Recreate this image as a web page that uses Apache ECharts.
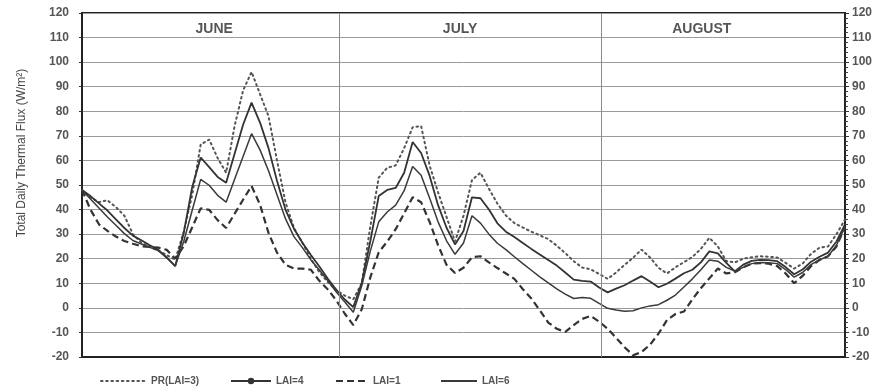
<!DOCTYPE html>
<html>
<head>
<meta charset="utf-8">
<script src="https://cdn.jsdelivr.net/npm/echarts@6/dist/echarts.min.js"></script>
<style>
html,body{margin:0;padding:0;background:#fff;}
#chart{width:885px;height:389px;}
</style>
</head>
<body>
<div id="chart"></div>
<script>
// Day index (0 = June 1)
const days = [0,1,2,3,4,5,6,7,8,9,10,11,12,13,14,15,16,17,18,19,20,21,22,23,24,25,26,27,28,29,30,31,32,33,34,35,36,37,38,39,40,41,42,43,44,45,46,47,48,49,50,51,52,53,54,55,56,57,58,59,60,61,62,63,64,65,66,67,68,69,70,71,72,73,74,75,76,77,78,79,80,81,82,83,84,85,86,87,88,89,90];

const seriesNames = ['PR(LAI=3)', 'LAI=4', 'LAI=1', 'LAI=6'];

// PR(LAI=3) - dotted
const prLai3 = [48,45,43,43.8,41,37.5,30,26.5,24.8,23.3,21.5,19.6,31,46,66.5,68.5,61,55,74,88.5,96,87,78,60,43,32.5,26.5,20,14.5,10.5,7.2,5,3.5,10,33,53,57,58,65,73.5,74,58,47,37,27,37.5,52,55,48.5,42.4,37.6,34.5,32.7,31,29.5,28,25.3,22.3,19,16.4,15.7,13.8,11.8,14.4,17.5,20.4,23.7,20.5,16.3,14,16.5,18.6,20.7,24,28.5,25,19,18.5,20,20.6,21,20.8,20.5,18.3,16,18,22,24.5,25,30,36];
// LAI=4 - upper solid
const lai4 = [48,45.5,42.5,39.6,36,32.5,29.4,27.5,25.5,23.6,20.5,17,30.5,49.2,61.2,57.3,53.3,50.9,62.7,74.5,83.5,75.4,65,51.7,40,32.2,26.5,21.5,16.8,11.8,7.3,3.4,0.3,10.2,27,45.5,48,48.8,55,67.5,63,53.8,41.8,32.6,25.8,31.3,45,44.6,40,34.4,31,28.8,26.4,24,21.7,19.5,17.2,14.4,11.5,11,10.7,8.3,6.3,7.8,9.2,11.1,12.9,10.7,8.4,9.8,11.9,14.1,15.5,18.5,23,22.2,18.3,14.8,17.6,19.1,19.5,19.4,19,16.6,13.7,15.6,18.8,20.8,22.5,27,34];
// LAI=1 - dashed
const lai1 = [48,40,34,31.3,29,27.2,26.1,25.1,24.8,24.5,23.6,20,25.1,32.8,40.5,39.9,35.7,32.5,38.3,44,49.6,42,30.5,22.5,17.5,16,16,15.5,11,7.5,3,-2.4,-7,-0.6,12.3,22.6,27,32,38.5,45,43,35,25.5,17.5,14.2,16.3,20.6,21,18.5,16.2,14,11.8,7.6,3.8,-1,-6,-8.5,-9.8,-7,-4.5,-3.3,-5.6,-8.5,-12.2,-16,-19.3,-18,-15,-10.5,-5,-2.5,-1.5,3.5,8,12,16,14,14.5,16.5,18,18.2,18,17,14,10,13,17,19.5,21,25,33];
// LAI=6 - lower solid
const lai6 = [48,44.3,40.6,37,33.6,30.2,27.4,26,24.6,23.3,20.3,17,27,39.7,52.3,49.9,45.8,43,52.3,61.6,70.9,64.3,55.8,46,36.3,29,24.5,19.5,15.4,11,6.4,2.4,-1.8,9,23,35,39,41.8,47.7,57.5,54,44.7,35,27.3,21.8,26.4,37.5,34.5,30,26.3,23.7,20.8,18,15.3,12.6,10.2,7.7,5.6,3.8,4.2,3.9,1.8,-0.2,-0.9,-1.4,-1.2,0,0.8,1.3,3.1,5.2,8.5,11.8,15.5,19.5,19,16.5,15,16.5,18,18.5,18.4,18,15.6,12.5,14.4,17.6,19.6,21,25.5,33];

// Axis range / ticks
const yMin = -20, yMax = 120, yStep = 10;
const xMin = 0, xMax = 90;

// Month annotations
const months = ['JUNE', 'JULY', 'AUGUST'];
const monthCenters = [15.6, 44.6, 73.1];
const monthBounds = [30.4, 61.3];

const yTitle = 'Total Daily Thermal Flux (W/m\u00B2)';

const FONT = "'Liberation Sans Narrow','DejaVu Sans Condensed','Liberation Sans',sans-serif";
const monthLabelY = 113.5;

const chart = echarts.init(document.getElementById('chart'), null, {renderer: 'canvas'});

function pairs(vals) { return days.map((d, i) => [d, vals[i]]); }

const axisLabelStyle = {fontSize: 12, fontWeight: 'bold', color: '#555', fontFamily: "'Liberation Sans',sans-serif"};
const legendText = {fontSize: 10, color: '#555', fontFamily: "'Liberation Sans',sans-serif", fontWeight: 'bold'};

function legendItem(name, withMarker) {
  return withMarker ? {name: name} : {name: name, itemStyle: {opacity: 0}};
}

const option = {
  backgroundColor: '#fff',
  animation: false,
  grid: {left: 82, right: 40, top: 13, bottom: 32, show: true, borderColor: '#222', borderWidth: 2, backgroundColor: 'transparent'},
  xAxis: {
    type: 'value', min: xMin, max: xMax,
    axisLabel: {show: false}, axisTick: {show: false}, splitLine: {show: false},
    axisLine: {show: true, onZero: false, lineStyle: {color: '#222', width: 2}}
  },
  yAxis: [
    {
      type: 'value', min: yMin, max: yMax, interval: yStep, position: 'left',
      axisLine: {show: true, lineStyle: {color: '#222', width: 2}},
      axisTick: {show: true, length: 3, lineStyle: {color: '#333'}},
      axisLabel: Object.assign({margin: 13}, axisLabelStyle),
      splitLine: {show: true, lineStyle: {color: '#9a9a9a', width: 1}}
    },
    {
      type: 'value', min: yMin, max: yMax, interval: yStep, position: 'right',
      axisLine: {show: true, lineStyle: {color: '#222', width: 2}},
      axisTick: {show: true, length: 4, lineStyle: {color: '#333'}},
      minorTick: {show: true, splitNumber: 5, length: 3, lineStyle: {color: '#444'}},
      axisLabel: Object.assign({margin: 7}, axisLabelStyle),
      splitLine: {show: false}
    }
  ],
  legend: [
    {data: [legendItem(seriesNames[0], false)], left: 95, top: 371, itemWidth: 45, itemHeight: 8, itemGap: 0, textStyle: legendText},
    {data: [legendItem(seriesNames[1], true)], left: 225, top: 371, itemWidth: 40, itemHeight: 8, itemGap: 0, textStyle: legendText},
    {data: [legendItem(seriesNames[2], false)], left: 330, top: 371, itemWidth: 32, itemHeight: 8, itemGap: 0, textStyle: legendText},
    {data: [legendItem(seriesNames[3], false)], left: 435, top: 371, itemWidth: 36, itemHeight: 8, itemGap: 0, textStyle: legendText}
  ],
  graphic: [
    {type: 'text', x: 22, y: 153, rotation: Math.PI / 2,
     style: {text: yTitle, fill: '#444', font: "12px 'Liberation Sans', sans-serif", textAlign: 'center', textVerticalAlign: 'middle'}}
  ],
  series: [
    {
      name: seriesNames[0], type: 'line', data: pairs(prLai3), symbol: 'none',
      lineStyle: {color: '#555', width: 2, type: [1.6, 3.6], cap: 'round'}, itemStyle: {color: '#555'}, z: 3
    },
    {
      name: seriesNames[1], type: 'line', data: pairs(lai4), symbol: 'circle', symbolSize: 4, showSymbol: false,
      lineStyle: {color: '#333', width: 1.8}, itemStyle: {color: '#333'}, z: 4
    },
    {
      name: seriesNames[2], type: 'line', data: pairs(lai1), symbol: 'none',
      lineStyle: {color: '#333', width: 2.2, type: [7, 4]}, itemStyle: {color: '#333'}, z: 3
    },
    {
      name: seriesNames[3], type: 'line', data: pairs(lai6), symbol: 'none',
      lineStyle: {color: '#3a3a3a', width: 1.5}, itemStyle: {color: '#3a3a3a'}, z: 4,
      markLine: {
        silent: true, symbol: 'none', label: {show: false},
        lineStyle: {color: '#8a8a8a', width: 1, type: 'solid'},
        data: monthBounds.map(b => ({xAxis: b}))
      }
    },
    {
      name: 'months', type: 'scatter', symbolSize: 0, silent: true,
      data: monthCenters.map((c, i) => ({value: [c, monthLabelY], name: months[i]})),
      label: {show: true, position: 'inside', formatter: p => p.name, fontSize: 14, fontWeight: 'bold', color: '#2a2a2a', fontFamily: "'Liberation Sans',sans-serif"},
      z: 5
    }
  ]
};

chart.setOption(option);
</script>
</body>
</html>
